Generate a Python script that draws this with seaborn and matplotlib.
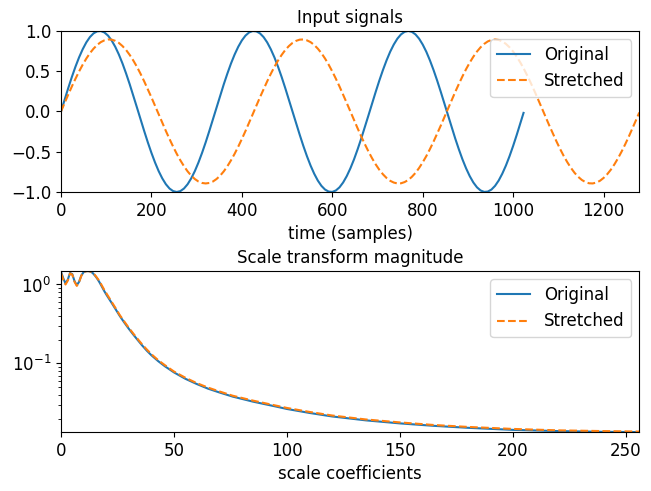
import matplotlib
matplotlib.use("Agg")
import matplotlib.pyplot as plt
import seaborn as sns

# ---- Top panel: input signals (sample index, amplitude) ----
t_original = list(range(0, 1024, 8)) + [1023]
y_original = [0.0, 0.147, 0.290, 0.428, 0.556, 0.672, 0.773, 0.858, 0.924, 0.970, 0.995,
              0.999, 0.981, 0.942, 0.882, 0.803, 0.707, 0.596, 0.471, 0.337, 0.195, 0.049,
              -0.098, -0.243, -0.383, -0.514, -0.634, -0.741, -0.831, -0.904, -0.957, -0.989,
              -1.0, -0.989, -0.957, -0.904, -0.831, -0.741, -0.634, -0.514, -0.383, -0.243,
              -0.098, 0.049, 0.195, 0.337, 0.471, 0.596, 0.707, 0.803, 0.882, 0.942, 0.981,
              0.999, 0.995, 0.970, 0.924, 0.858, 0.773, 0.672, 0.556, 0.428, 0.290, 0.147, 0.0,
              -0.147, -0.290, -0.428, -0.556, -0.672, -0.773, -0.858, -0.924, -0.970, -0.995,
              -0.999, -0.981, -0.942, -0.882, -0.803, -0.707, -0.596, -0.471, -0.337, -0.195,
              -0.049, 0.098, 0.243, 0.383, 0.514, 0.634, 0.741, 0.831, 0.904, 0.957, 0.989,
              1.0, 0.989, 0.957, 0.904, 0.831, 0.741, 0.634, 0.514, 0.383, 0.243, 0.098,
              -0.049, -0.195, -0.337, -0.471, -0.596, -0.707, -0.803, -0.882, -0.942, -0.981,
              -0.999, -0.995, -0.970, -0.924, -0.858, -0.773, -0.672, -0.556, -0.428, -0.290,
              -0.147, -0.018]

t_stretched = list(range(0, 1280, 8)) + [1279]
y_stretched = [0.0, 0.105, 0.209, 0.310, 0.406, 0.497, 0.581, 0.657, 0.724, 0.780, 0.826,
               0.861, 0.883, 0.894, 0.892, 0.877, 0.851, 0.812, 0.763, 0.702, 0.632, 0.554,
               0.467, 0.374, 0.276, 0.175, 0.070, -0.035, -0.140, -0.243, -0.342, -0.437,
               -0.526, -0.607, -0.680, -0.744, -0.797, -0.839, -0.870, -0.888, -0.894,
               -0.888, -0.870, -0.839, -0.797, -0.744, -0.680, -0.607, -0.526, -0.437,
               -0.342, -0.243, -0.140, -0.035, 0.070, 0.175, 0.276, 0.374, 0.467, 0.554,
               0.632, 0.702, 0.763, 0.812, 0.851, 0.877, 0.892, 0.894, 0.883, 0.861, 0.826,
               0.780, 0.724, 0.657, 0.581, 0.497, 0.406, 0.310, 0.209, 0.105, 0.0,
               -0.105, -0.209, -0.310, -0.406, -0.497, -0.581, -0.657, -0.724, -0.780,
               -0.826, -0.861, -0.883, -0.894, -0.892, -0.877, -0.851, -0.812, -0.763,
               -0.702, -0.632, -0.554, -0.467, -0.374, -0.276, -0.175, -0.070, 0.035, 0.140,
               0.243, 0.342, 0.437, 0.526, 0.607, 0.680, 0.744, 0.797, 0.839, 0.870, 0.888,
               0.894, 0.888, 0.870, 0.839, 0.797, 0.744, 0.680, 0.607, 0.526, 0.437, 0.342,
               0.243, 0.140, 0.035, -0.070, -0.175, -0.276, -0.374, -0.467, -0.554, -0.632,
               -0.702, -0.763, -0.812, -0.851, -0.877, -0.892, -0.894, -0.883, -0.861,
               -0.826, -0.780, -0.724, -0.657, -0.581, -0.497, -0.406, -0.310, -0.209,
               -0.105, -0.013]

# ---- Bottom panel: scale transform magnitude ----
coef = [0, 1, 2, 3, 4, 5, 6, 7, 8, 9, 10, 11, 12, 13, 14, 15, 16, 17, 18, 19, 20,
        22, 24, 26, 28, 30, 32, 34, 36, 38, 40, 43, 46, 50, 55, 60, 65, 70, 76, 85,
        95, 100, 110, 120, 135, 150, 165, 180, 200, 220, 240, 256]
mag_original = [1.45, 1.20, 1.03, 1.15, 1.40, 1.35, 1.10, 0.98, 1.08, 1.30, 1.43,
                1.47, 1.48, 1.46, 1.40, 1.30, 1.19, 1.07, 0.95, 0.84, 0.75,
                0.61, 0.495, 0.40, 0.33, 0.275, 0.232, 0.197, 0.168, 0.145, 0.127,
                0.107, 0.092, 0.077, 0.064, 0.055, 0.048, 0.043, 0.038, 0.0328,
                0.0285, 0.0265, 0.0236, 0.0213, 0.0190, 0.0174, 0.0162, 0.0153,
                0.0144, 0.0139, 0.0136, 0.0135]
mag_stretched = [1.40, 1.15, 1.00, 1.12, 1.38, 1.33, 1.08, 0.96, 1.07, 1.29, 1.43,
                 1.47, 1.48, 1.46, 1.41, 1.32, 1.21, 1.10, 0.98, 0.87, 0.78,
                 0.63, 0.51, 0.41, 0.34, 0.283, 0.239, 0.203, 0.173, 0.150, 0.131,
                 0.110, 0.095, 0.079, 0.066, 0.0565, 0.0495, 0.0443, 0.039, 0.0338,
                 0.0293, 0.0273, 0.0243, 0.0219, 0.0195, 0.0179, 0.0166, 0.0157,
                 0.0148, 0.0142, 0.0139, 0.0137]

plt.rcParams['font.family'] = ['DejaVu Sans']
plt.rcParams['font.size'] = 12

fig, ax = plt.subplots(nrows=2, figsize=(6.51, 4.91), dpi=100)
ax[0].set_position([0.0937, 0.609, 0.982 - 0.0937, 0.937 - 0.609])
ax[1].set_position([0.0937, 0.120, 0.982 - 0.0937, 0.448 - 0.120])

blue = '#1f77b4'
orange = '#ff7f0e'

sns.lineplot(x=t_original, y=y_original, ax=ax[0], color=blue, linewidth=1.5,
             label='Original', estimator=None, sort=False)
sns.lineplot(x=t_stretched, y=y_stretched, ax=ax[0], color=orange, linewidth=1.5,
             linestyle='--', label='Stretched', estimator=None, sort=False)
ax[0].margins(x=0, y=0)
ax[0].set_xlabel('time (samples)', fontsize=12)
ax[0].set_ylabel('')
ax[0].set_title('Input signals', fontsize=12)
ax[0].set_xticks([0, 200, 400, 600, 800, 1000, 1200])
ax[0].set_yticks([-1.0, -0.5, 0.0, 0.5, 1.0])
ax[0].legend(loc='upper right', fontsize=12)

sns.lineplot(x=coef, y=mag_original, ax=ax[1], color=blue, linewidth=1.5,
             label='Original', estimator=None, sort=False)
sns.lineplot(x=coef, y=mag_stretched, ax=ax[1], color=orange, linewidth=1.5,
             linestyle='--', label='Stretched', estimator=None, sort=False)
ax[1].set_yscale('log')
ax[1].margins(x=0, y=0)
ax[1].set_xlabel('scale coefficients', fontsize=12)
ax[1].set_ylabel('')
ax[1].set_title('Scale transform magnitude', fontsize=12)
ax[1].set_xticks([0, 50, 100, 150, 200, 250])
ax[1].legend(loc='upper right', fontsize=12)

for a in ax:
    a.tick_params(labelsize=12)

fig.savefig('out.png', dpi=100)
